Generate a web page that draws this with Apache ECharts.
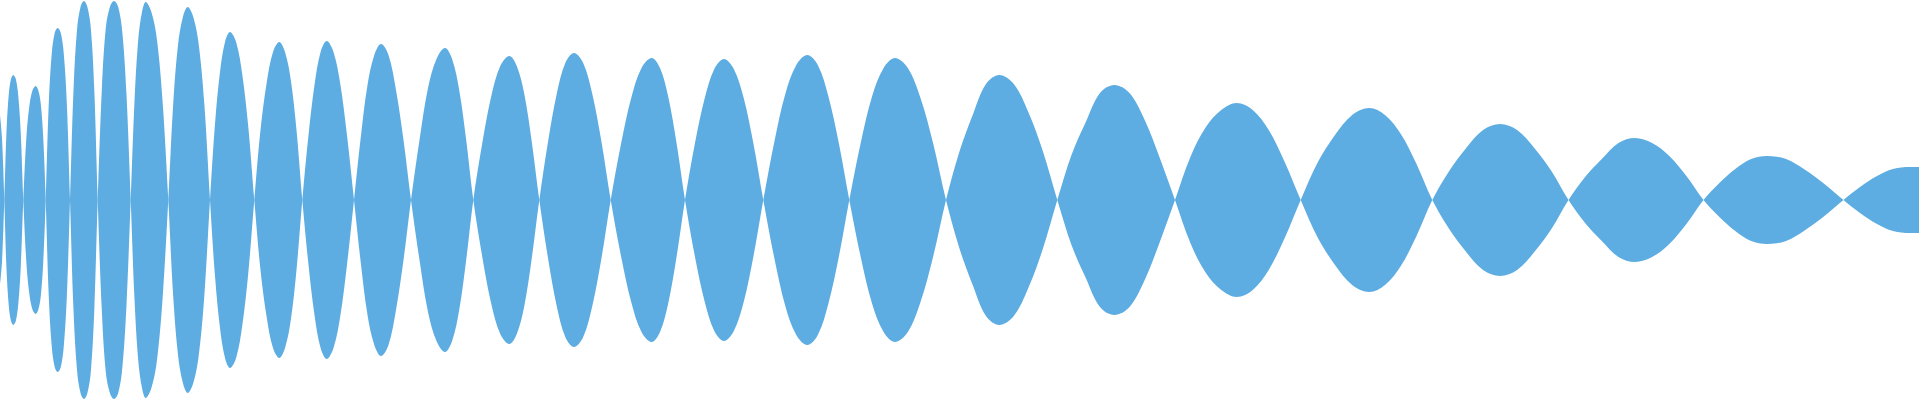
<!DOCTYPE html>
<html>
<head>
<meta charset="utf-8">
<script src="https://cdn.jsdelivr.net/npm/echarts@6/dist/echarts.min.js"></script>
<style>
html,body{margin:0;padding:0;background:#ffffff;}
#chart{width:1920px;height:400px;}
</style>
</head>
<body>
<div id="chart"></div>
<script>
// Sample positions (x) and signed wave values (one line per lobe)
const xValues = [
  0, 2, 4.3,
  6.5, 8.8, 11, 13.3, 15.8, 18.3, 20.8, 23.3,
  26.4, 29.5, 32.6, 35.7, 38.2, 40.7, 43.2, 45.7,
  48.7, 51.7, 54.7, 57.7, 60.8, 63.8, 66.9, 70,
  73.5, 77, 80.5, 84, 87.4, 90.8, 94.3, 97.7,
  101.8, 105.8, 109.9, 114, 118.2, 122.3, 126.5, 130.7,
  134.5, 138.2, 142, 145.7, 151.4, 157, 162.7, 168.3,
  173.2, 178, 182.9, 187.7, 193.3, 198.8, 204.4, 210,
  215, 220, 225, 230, 236.1, 242.2, 248.2, 254.3,
  260.5, 266.8, 273, 279.3, 285, 290.8, 296.5, 302.3,
  308.4, 314.5, 320.6, 326.7, 333.5, 340.3, 347.2, 354,
  360.8, 367.5, 374.3, 381, 388.5, 396, 403.5, 411,
  419.5, 428, 436.5, 445, 452.1, 459.2, 466.2, 473.3,
  482.3, 491.3, 500.3, 509.3, 516.8, 524.3, 531.8, 539.3,
  548, 556.7, 565.3, 574, 583.2, 592.3, 601.5, 610.7,
  621, 631.2, 641.5, 651.7, 660, 668.3, 676.7, 685,
  694.8, 704.5, 714.3, 724, 733.8, 743.7, 753.5, 763.3,
  774.3, 785.3, 796.3, 807.3, 817.8, 828.3, 838.8, 849.3,
  860.7, 872.2, 883.6, 895, 907.8, 920.5, 933.3, 946,
  959.3, 972.7, 986, 999.3, 1013.8, 1028.3, 1042.8, 1057.3,
  1071.5, 1085.8, 1100, 1114.3, 1129.5, 1144.7, 1159.8, 1175,
  1190.4, 1205.9, 1221.3, 1236.7, 1252.7, 1268.7, 1284.7, 1300.7,
  1317.9, 1335, 1352.2, 1369.3, 1385, 1400.8, 1416.5, 1432.3,
  1449.2, 1466.2, 1483.1, 1500, 1517.1, 1534.3, 1551.4, 1568.5,
  1585.1, 1601.8, 1618.4, 1635, 1652.1, 1669.3, 1686.4, 1703.5,
  1719.4, 1735.3, 1751.1, 1767, 1786.1, 1805.3, 1824.4, 1843.5,
  1860, 1877, 1893, 1910, 1919
];
const waveValues = [
  85, 62, 0,
  -69, -106, -121, -125, -121, -104, -66, 0,
  63, 95, 110, 114, 110, 97, 63, 0,
  -95, -146, -167, -172, -167, -146, -95, 0,
  110, 170, 193, 199, 193, 172, 110, 0,
  -110, -172, -193, -199, -193, -168, -105, 0,
  99, 160, 188, 198, 188, 160, 97, 0,
  -96, -155, -183, -193, -183, -155, -95, 0,
  76, 128, 158, 168, 158, 126, 74, 0,
  -70, -118, -148, -158, -148, -120, -70, 0,
  64, 115, 148, 159, 148, 116, 63, 0,
  -63, -115, -145, -156, -145, -110, -60, 0,
  60, 112, 141, 152, 141, 110, 60, 0,
  -57, -104, -134, -144, -134, -106, -58, 0,
  58, 106, 137, 147, 137, 106, 58, 0,
  -56, -102, -132, -142, -132, -103, -56, 0,
  56, 101, 131, 141, 131, 102, 56, 0,
  -58, -106, -135, -145, -135, -104, -57, 0,
  57, 104, 132, 142, 132, 102, 56, 0,
  -48, -85, -116, -125, -116, -88, -49, 0,
  45, 78, 107, 115, 107, 80, 42, 0,
  -43, -73, -90, -97, -90, -70, -38, 0,
  38, 65, 85, 92, 85, 66, 36, 0,
  -29, -52, -70, -76, -70, -52, -29, 0,
  23, 41, 57, 62, 57, 44, 24, 0,
  -17, -31, -41, -44, -41, -30, -16, 0,
  13, 24, 31, 33, 33
];

const upperData = xValues.map((x, i) => [x, waveValues[i]]);
const lowerData = xValues.map((x, i) => [x, -waveValues[i]]);

const color = '#5dade2';
const chart = echarts.init(document.getElementById('chart'));
chart.setOption({
  animation: false,
  grid: {left: 0, right: 0, top: 0, bottom: 0},
  xAxis: {type: 'value', min: 0, max: 1920, show: false},
  yAxis: {type: 'value', min: -200, max: 200, show: false},
  series: [
    {type: 'line', data: upperData, smooth: 0.35, symbol: 'none',
     lineStyle: {width: 0}, itemStyle: {color: color},
     areaStyle: {color: color, opacity: 1}},
    {type: 'line', data: lowerData, smooth: 0.35, symbol: 'none',
     lineStyle: {width: 0}, itemStyle: {color: color},
     areaStyle: {color: color, opacity: 1}}
  ]
});
</script>
</body>
</html>
